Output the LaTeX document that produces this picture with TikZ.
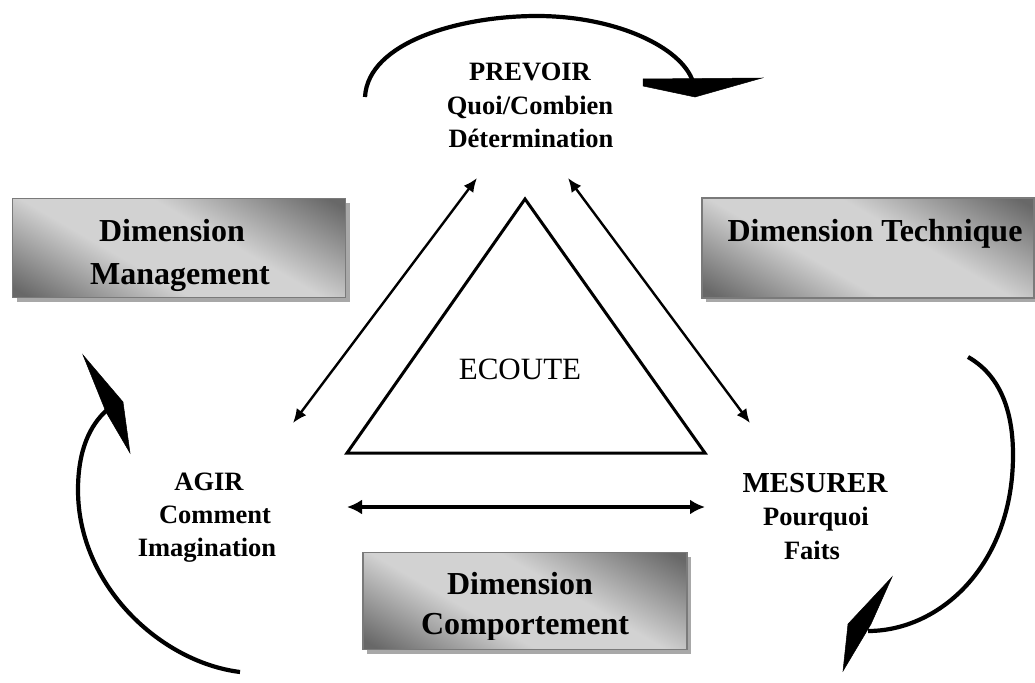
\documentclass[tikz,border=0pt]{standalone}
\usepackage{fontspec}
\setmainfont{Liberation Serif}
\usetikzlibrary{arrows.meta,shadows}
\definecolor{boxdark}{HTML}{686868}
\definecolor{boxmid}{HTML}{9A9A9A}
\definecolor{boxlight}{HTML}{D2D2D2}
\definecolor{boxedge}{HTML}{7A7A7A}
\definecolor{shadowgray}{HTML}{A8A8A8}
\pgfdeclareverticalshading{dimshade}{100bp}{color(0bp)=(boxdark); color(18bp)=(boxdark); color(40bp)=(boxlight); color(58bp)=(boxlight); color(82bp)=(boxdark); color(100bp)=(boxdark)}
\begin{document}
\begin{tikzpicture}[x=1pt,y=-1pt,
  lbl/.style={font=\bfseries\fontsize{26.5}{30}\selectfont, inner sep=0pt, anchor=base},
  dimtxt/.style={font=\bfseries\fontsize{32}{36}\selectfont, inner sep=0pt, anchor=base},
  dimbox/.style={draw=boxedge, line width=1.6pt, shading=dimshade, shading angle=-30,
     general shadow={fill=shadowgray, shadow xshift=4pt, shadow yshift=-4pt},
     inner sep=0pt},
  dbl/.style={line width=2.4pt, {Latex[length=14pt,width=12pt]}-{Latex[length=14pt,width=12pt]}},
  curve/.style={line width=4.2pt},
  head/.style={fill=black, draw=black, line width=0.5pt, line join=miter}
]
\useasboundingbox (0,0) rectangle (1035,682);

% dimension boxes
\node[dimbox, minimum width=333pt, minimum height=99pt] (mgmt) at (179,248) {};
\node[dimbox, minimum width=332pt, minimum height=100pt] (tech) at (868,248) {};
\node[dimbox, minimum width=324pt, minimum height=97pt] (comp) at (525,601) {};

\node[dimtxt] (mgmt1) at (172,241) {Dimension};
\begin{scope}
  \clip (0,0) rectangle (1035,291);
  \node[dimtxt] (mgmt2) at (180,284) {Management};
\end{scope}
\node[dimtxt] (tech1) at (875,241) {Dimension Technique};
\node[dimtxt] (comp1) at (520,594) {Dimension};
\begin{scope}
  \clip (0,0) rectangle (1035,639);
  \node[dimtxt] (comp2) at (525,634) {Comportement};
\end{scope}

% central triangle
\coordinate (tA) at (525,199);
\coordinate (tB) at (347,453);
\coordinate (tC) at (705,453);
\draw[line width=3pt, line join=miter] (tA) -- (tB) -- (tC) -- cycle;
\node[font=\fontsize{31}{34}\selectfont, inner sep=0pt, anchor=base] (ecoute) at (520,379) {ECOUTE};

% labels
\node[lbl] (prev1) at (530,81) {PREVOIR};
\node[lbl] (prev2) at (530,114) {Quoi/Combien};
\node[lbl] (prev3) at (531,147) {Détermination};

\node[lbl] (agir1) at (209,490) {AGIR};
\node[lbl] (agir2) at (215,523) {Comment};
\begin{scope}
  \clip (0,0) rectangle (1035,561);
  \node[lbl] (agir3) at (207,556) {Imagination};
\end{scope}

\node[lbl, font=\bfseries\fontsize{29}{32}\selectfont] (mes1) at (815,492) {MESURER};
\node[lbl] (mes2) at (816,525) {Pourquoi};
\begin{scope}
  \clip (0,0) rectangle (1035,561);
  \node[lbl] (mes3) at (812,559) {Faits};
\end{scope}

% double arrows
\coordinate (lt) at (477,178);
\coordinate (lb) at (293,423);
\coordinate (rt) at (568,178);
\coordinate (rb) at (750,423);
\coordinate (hl) at (347,507);
\coordinate (hr) at (705,507);
\draw[dbl] (lt) -- (lb);
\draw[dbl] (rt) -- (rb);
\draw[line width=3.2pt, {Latex[length=15pt,width=15pt]}-{Latex[length=15pt,width=15pt]}] (hl) -- (hr);

% top curved arrow
\coordinate (c1s) at (365,97);
\coordinate (c1e) at (693,82);
\draw[curve] (c1s) .. controls (368,42) and (460,16) .. (537,16) .. controls (615,16) and (682,47) .. (c1e);
\fill[head] (643,79) -- (762,78) -- (695,97) -- (643,86) -- cycle;

% right curved arrow
\coordinate (c2s) at (968,357);
\coordinate (c2e) at (868,631);
\draw[curve] (c2s) .. controls (1005,378) and (1013,420) .. (1013,455) .. controls (1013,565) and (940,631) .. (c2e);
\fill[head] (892,577) -- (848,624) -- (843,671) -- (871,624) -- cycle;

% left curved arrow
\coordinate (c3s) at (240,672);
\coordinate (c3e) at (107,410);
\draw[curve] (c3s) .. controls (160,662) and (78,585) .. (78,490) .. controls (78,450) and (90,425) .. (c3e);
\fill[head] (83,355) -- (123,402) -- (130,453) -- (106,412) -- cycle;

\end{tikzpicture}
\end{document}
